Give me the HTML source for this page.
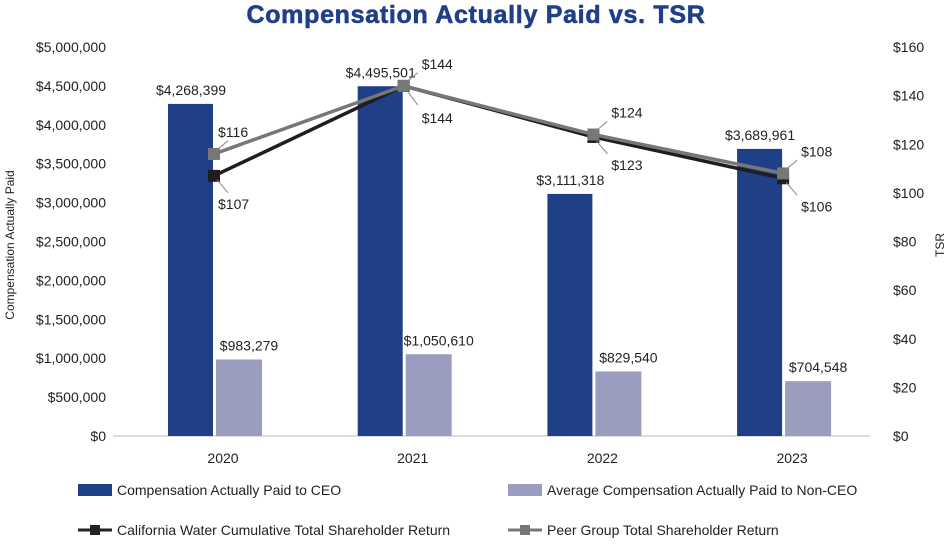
<!DOCTYPE html>
<html><head><meta charset="utf-8"><style>
body{margin:0;background:#fff}
svg text{font-family:"Liberation Sans",sans-serif}
</style></head><body>
<svg width="952" height="541" viewBox="0 0 952 541" xmlns="http://www.w3.org/2000/svg">
<text x="476" y="23" text-anchor="middle" font-size="25" font-weight="bold" letter-spacing="0.7" fill="#1f3f87" stroke="#1f3f87" stroke-width="0.6">Compensation Actually Paid vs. TSR</text>
<g id="axes"></g><g id="bars"></g><g id="lines"></g>
<text transform="translate(14,245) rotate(-90)" text-anchor="middle" font-size="12" fill="#222">Compensation Actually Paid</text>
<text transform="translate(944,245) rotate(-90)" text-anchor="middle" font-size="12" fill="#222">TSR</text>
<g font-size="14" fill="#222">
<rect x="78" y="484" width="34" height="12" fill="#1f3f87"/>
<text x="117" y="495">Compensation Actually Paid to CEO</text>
<rect x="508" y="484" width="34" height="12" fill="#9a9dc0"/>
<text x="547" y="495">Average Compensation Actually Paid to Non-CEO</text>
<line x1="78" y1="530" x2="112" y2="530" stroke="#222" stroke-width="3"/>
<rect x="90" y="525" width="10" height="10" fill="#222"/>
<text x="117" y="535">California Water Cumulative Total Shareholder Return</text>
<line x1="508" y1="530" x2="542" y2="530" stroke="#777" stroke-width="3"/>
<rect x="520" y="525" width="10" height="10" fill="#777"/>
<text x="547" y="535">Peer Group Total Shareholder Return</text>
</g>
</svg>
<script>
const years=["2020","2021","2022","2023"];
const ceo=[4268399,4495501,3111318,3689961];
const nonCeo=[983279,1050610,829540,704548];
const calWater=[107,144,123,106];
const peer=[116,144,124,108];
const leftTicks=[0,500000,1000000,1500000,2000000,2500000,3000000,3500000,4000000,4500000,5000000];
const rightTicks=[0,20,40,60,80,100,120,140,160];
const NS="http://www.w3.org/2000/svg";
const y0=436,yTop=47;
const yL=v=>y0-(v/5000000)*(y0-yTop);
const yR=v=>y0-(v/160)*(y0-yTop);
const cx=i=>214+i*189.7;
const fmt=v=>"$"+v.toLocaleString("en-US");
function mk(t,a,p,txt){const e=document.createElementNS(NS,t);for(const k in a)e.setAttribute(k,a[k]);if(txt!==undefined)e.textContent=txt;p.appendChild(e);return e;}
const axes=document.getElementById("axes"),bars=document.getElementById("bars"),lines=document.getElementById("lines");
mk("line",{x1:113,y1:y0,x2:870,y2:y0,stroke:"#bbb"},axes);
leftTicks.forEach(v=>{const t=mk("text",{x:106,y:yL(v)+5,"text-anchor":"end","font-size":14,fill:"#222"},axes,"$"+v.toLocaleString("en-US"));

});
rightTicks.forEach(v=>{const t=mk("text",{x:893,y:yR(v)+5,"font-size":14,fill:"#222"},axes,"$"+v);

});
years.forEach((y,i)=>{const t=mk("text",{x:cx(i)+9,y:463,"text-anchor":"middle","font-size":14,fill:"#222"},axes,y);

});
ceo.forEach((v,i)=>{const r=mk("rect",{x:cx(i)-46,y:yL(v),width:45,height:y0-yL(v),fill:"#1f3f87"},bars);


const t=mk("text",{x:cx(i)-23,y:yL(v)-9,"text-anchor":"middle","font-size":14,fill:"#222"},bars,fmt(v));

});
nonCeo.forEach((v,i)=>{const r=mk("rect",{x:cx(i)+2,y:yL(v),width:46,height:y0-yL(v),fill:"#9a9dc0"},bars);


const t=mk("text",{x:cx(i)+35,y:yL(v)-9,"text-anchor":"middle","font-size":14,fill:"#222"},bars,fmt(v));

});
function series(data,color,name,below){
const pl=mk("polyline",{points:data.map((v,i)=>cx(i)+","+yR(v)).join(" "),fill:"none",stroke:color,"stroke-width":3.5},lines);


data.forEach((v,i)=>{const m=mk("rect",{x:cx(i)-6,y:yR(v)-6,width:12,height:12,fill:color},lines);


const dy=below?(i==1?32:28):-22;
mk("line",{x1:cx(i)+3,y1:yR(v)+(below?4:-4),x2:cx(i)+14,y2:yR(v)+dy*0.6,stroke:"#888","stroke-width":1},lines);
const t=mk("text",{x:cx(i)+(i==0?4:18),y:yR(v)+dy+5,"font-size":14,fill:"#222"},lines,"$"+v);

});
}
series(calWater,"#1e1e1e","calwater",true);
series(peer,"#777777","peer",false);
</script>
</body></html>
